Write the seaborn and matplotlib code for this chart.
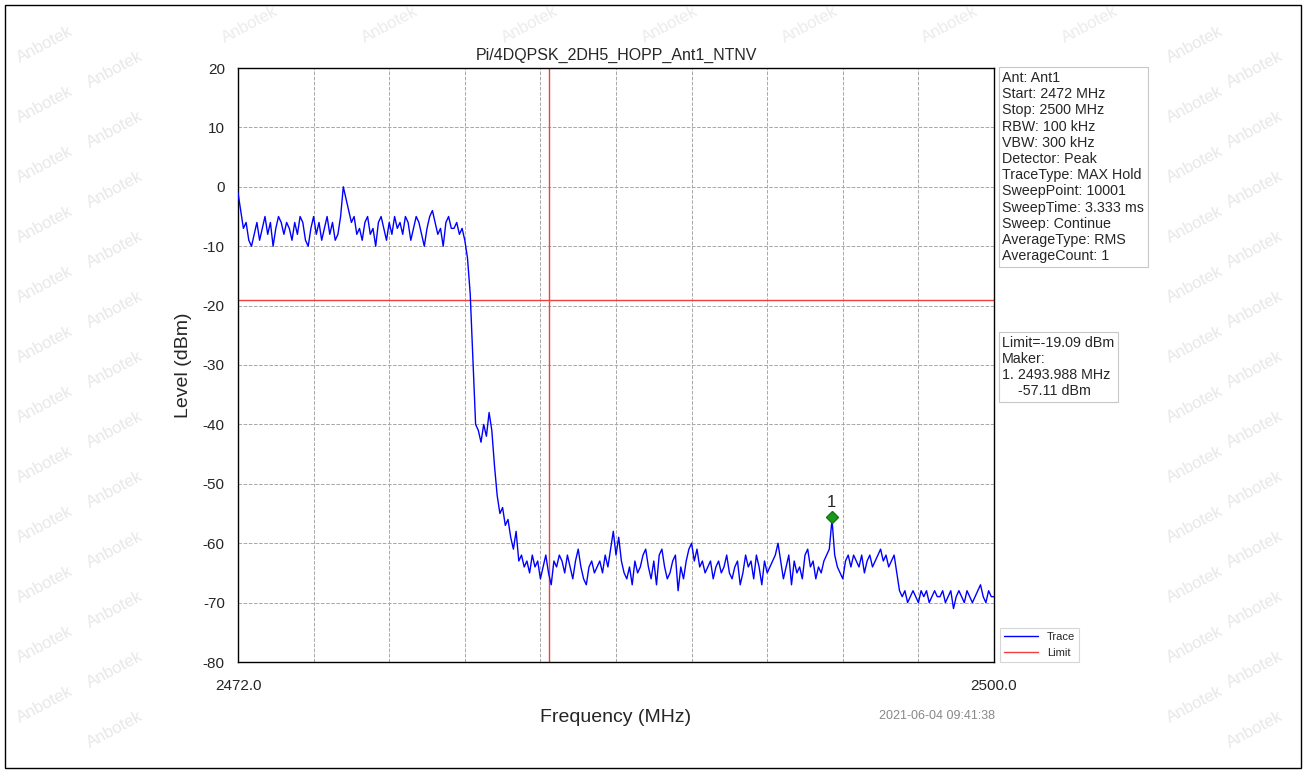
import numpy as np
import pandas as pd
import matplotlib
matplotlib.use("Agg")
import matplotlib.pyplot as plt
import seaborn as sns
from matplotlib.patches import Rectangle

# --- data ---
start_mhz = 2472.0
stop_mhz = 2500.0
step_mhz = 0.1

# trace level (dBm), one value every 0.1 MHz, 2472.0 ... 2500.0
trace_dbm = [
    -1, -4, -7, -6, -9, -10, -8, -6, -9, -7,          # 2472
    -5, -8, -6, -10, -7, -5, -6, -8, -6, -7,          # 2473
    -9, -6, -8, -5, -6, -9, -10, -7, -5, -8,          # 2474
    -6, -9, -7, -5, -8, -6, -9, -8, -5, 0,            # 2475
    -2, -4, -6, -5, -8, -7, -9, -6, -5, -8,           # 2476
    -7, -10, -6, -5, -7, -9, -6, -8, -5, -7,          # 2477
    -6, -8, -5, -6, -9, -7, -5, -6, -8, -10,          # 2478
    -7, -5, -4, -6, -8, -7, -10, -6, -5, -7,          # 2479
    -7, -6, -8, -7, -9, -12, -18, -29, -40, -41,      # 2480
    -43, -40, -42, -38, -41, -47, -52, -55, -54, -57, # 2481
    -56, -59, -61, -58, -63, -62, -64, -63, -65, -62, # 2482
    -64, -63, -66, -64, -62, -65, -67, -63, -64, -62, # 2483
    -63, -65, -62, -64, -66, -63, -61, -64, -66, -67, # 2484
    -64, -63, -65, -64, -63, -65, -62, -64, -61, -58, # 2485
    -62, -59, -63, -65, -66, -64, -67, -63, -65, -64, # 2486
    -62, -61, -64, -66, -63, -67, -62, -61, -64, -66, # 2487
    -65, -63, -62, -68, -64, -66, -63, -61, -60, -63, # 2488
    -61, -64, -63, -65, -64, -63, -66, -64, -63, -65, # 2489
    -64, -62, -65, -66, -64, -63, -67, -65, -62, -64, # 2490
    -63, -66, -62, -64, -67, -63, -65, -64, -63, -62, # 2491
    -60, -63, -66, -64, -62, -67, -63, -65, -64, -66, # 2492
    -62, -61, -64, -63, -66, -64, -65, -63, -62, -61, # 2493
    -56, -62, -64, -65, -66, -63, -62, -64, -62, -63, # 2494
    -64, -62, -65, -63, -62, -64, -63, -62, -61, -63, # 2495
    -62, -64, -63, -62, -65, -68, -69, -68, -70, -69, # 2496
    -68, -69, -70, -68, -69, -68, -70, -69, -68, -69, # 2497
    -69, -68, -70, -69, -68, -71, -69, -68, -69, -70, # 2498
    -68, -69, -70, -69, -68, -67, -69, -70, -68, -69, # 2499
    -69,                                              # 2500
]

limit_dbm = -19.09
band_edge_mhz = 2483.5
marker_mhz = 2493.988
marker_dbm = -55.6

info_lines = [
    "Ant: Ant1", "Start: 2472 MHz", "Stop: 2500 MHz", "RBW: 100 kHz",
    "VBW: 300 kHz", "Detector: Peak", "TraceType: MAX Hold",
    "SweepPoint: 10001", "SweepTime: 3.333 ms", "Sweep: Continue",
    "AverageType: RMS", "AverageCount: 1",
]
result_lines = ["Limit=-19.09 dBm", "Maker:", "1. 2493.988 MHz", "    -57.11 dBm"]

freq = np.round(np.arange(len(trace_dbm)) * step_mhz + start_mhz, 3)
df = pd.DataFrame({"freq": freq, "level": trace_dbm})

# --- style ---
sns.set_style("white")
plt.rcParams["font.family"] = ["Liberation Sans", "DejaVu Sans"]
plt.rcParams["axes.unicode_minus"] = False

fig = plt.figure(figsize=(13.06, 7.73), dpi=100)
ax = fig.add_axes([238 / 1306, 1 - 662 / 773, (994 - 238) / 1306, (662 - 68) / 773])
ax.set_facecolor("white")

sns.lineplot(data=df, x="freq", y="level", color="#0000ff", lw=1.0, ax=ax,
             label="Trace", zorder=3)
ax.axhline(limit_dbm, color="#f04040", lw=1.0, label="Limit", zorder=2)
ax.axvline(band_edge_mhz, color="#f04040", lw=1.0, zorder=2)

ax.plot([marker_mhz], [marker_dbm], marker="D", color="#1a9a1a", ms=6,
        markeredgecolor="#0f7a0f", zorder=4)
ax.text(marker_mhz, marker_dbm + 1.2, "1", ha="center", va="bottom", fontsize=12)

ax.set_xlim(start_mhz, stop_mhz)
ax.set_ylim(-80, 20)
xt = np.linspace(start_mhz, stop_mhz, 11)
ax.set_xticks(xt)
ax.set_xticklabels(["2472.0"] + [""] * 9 + ["2500.0"])
ax.set_yticks(np.arange(-80, 21, 10))
ax.tick_params(axis="both", labelsize=11, length=6, width=1, color="black")
ax.tick_params(axis="x", pad=6)
ax.grid(True, ls="--", color="#a8a8a8", lw=0.7)
for s in ax.spines.values():
    s.set_color("black")
    s.set_linewidth(1.0)

ax.set_title("Pi/4DQPSK_2DH5_HOPP_Ant1_NTNV", fontsize=11.5, pad=6)
ax.set_xlabel("Frequency (MHz)", fontsize=14, labelpad=12)
ax.set_ylabel("Level (dBm)", fontsize=14, labelpad=8)

leg = ax.legend(loc="lower left", bbox_to_anchor=(1.008, 0.0), fontsize=8,
                frameon=True, fancybox=False, edgecolor="#cccccc",
                handlelength=3, borderaxespad=0)
leg.get_frame().set_linewidth(0.8)

box = dict(boxstyle="square,pad=0.25", facecolor="white", edgecolor="#c8c8c8", lw=0.8)
ax.text(1.011, 0.995, "\n".join(info_lines), transform=ax.transAxes,
        ha="left", va="top", fontsize=10.3, linespacing=1.2, bbox=box)
ax.text(1.011, 0.549, "\n".join(result_lines), transform=ax.transAxes,
        ha="left", va="top", fontsize=10.3, linespacing=1.2, bbox=box)

fig.text(995 / 1306, 1 - 716 / 773, "2021-06-04 09:41:38", ha="right",
         va="center", fontsize=9, color="#888888")

# watermarks behind the axes
for wx in [45, 115, 1195, 1255]:
    for wy in range(45, 740, 60):
        fig.text(wx / 1306, 1 - (wy + (25 if wx in (115, 1255) else 0)) / 773,
                 "Anbotek", rotation=28, fontsize=12, color="#e8e8e8",
                 ha="center", va="center", zorder=-5)
for wx in range(250, 1150, 140):
    fig.text(wx / 1306, 1 - 25 / 773, "Anbotek", rotation=28, fontsize=12,
             color="#ececec", ha="center", va="center", zorder=-5)

fig.patches.append(Rectangle((5 / 1306, 5 / 773), 1 - 10 / 1306, 1 - 10 / 773,
                             transform=fig.transFigure, fill=False,
                             edgecolor="black", lw=1.0))

fig.savefig("out.png", dpi=100)
